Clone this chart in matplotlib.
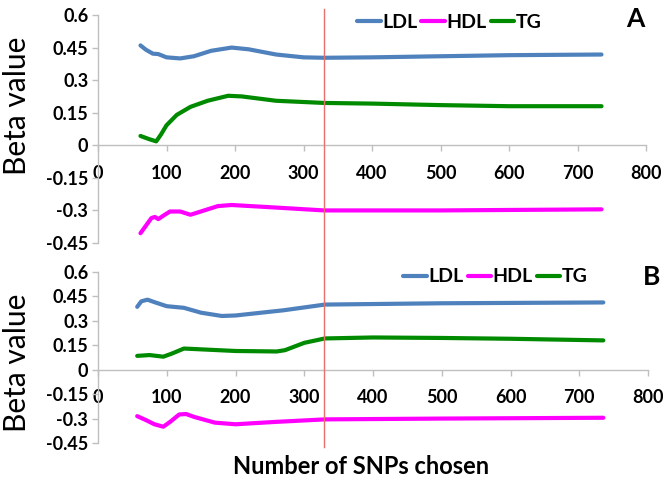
'''
 Beta value versus number of SNPs chosen, two panels (A and B)
'''

import matplotlib
matplotlib.use('Agg')
import matplotlib.pyplot as plt
from matplotlib.lines import Line2D
from matplotlib.transforms import blended_transform_factory

plt.rcParams['font.family'] = ['Lato', 'DejaVu Sans']

# panel A
a_ldl_x = [62, 70, 80, 88, 100, 120, 140, 165, 195, 220, 260, 300, 330, 400, 500, 600, 735]
a_ldl_y = [0.46, 0.44, 0.422, 0.42, 0.405, 0.40, 0.41, 0.435, 0.45, 0.442, 0.418, 0.405, 0.403, 0.405, 0.41, 0.415, 0.418]
a_hdl_x = [62, 70, 78, 83, 88, 95, 105, 120, 130, 135, 150, 175, 195, 250, 330, 500, 735]
a_hdl_y = [-0.405, -0.37, -0.335, -0.33, -0.34, -0.325, -0.305, -0.305, -0.315, -0.32, -0.305, -0.28, -0.275, -0.285, -0.30, -0.30, -0.295]
a_tg_x = [62, 75, 85, 92, 100, 115, 135, 160, 190, 210, 260, 330, 400, 500, 600, 735]
a_tg_y = [0.043, 0.028, 0.018, 0.05, 0.092, 0.14, 0.177, 0.205, 0.228, 0.225, 0.205, 0.195, 0.192, 0.185, 0.18, 0.18]

# panel B
b_ldl_x = [57, 63, 72, 82, 100, 125, 150, 180, 200, 270, 330, 500, 735]
b_ldl_y = [0.386, 0.42, 0.43, 0.415, 0.39, 0.38, 0.35, 0.33, 0.333, 0.365, 0.40, 0.408, 0.413]
b_hdl_x = [57, 70, 82, 95, 105, 118, 128, 140, 170, 200, 260, 330, 500, 735]
b_hdl_y = [-0.285, -0.31, -0.335, -0.35, -0.32, -0.275, -0.272, -0.29, -0.325, -0.335, -0.32, -0.305, -0.30, -0.295]
b_tg_x = [57, 75, 95, 108, 125, 150, 200, 260, 272, 300, 330, 400, 500, 600, 735]
b_tg_y = [0.085, 0.09, 0.08, 0.1, 0.13, 0.125, 0.115, 0.112, 0.12, 0.165, 0.192, 0.198, 0.195, 0.19, 0.18]

y_ticks = [-0.45, -0.3, -0.15, 0, 0.15, 0.3, 0.45, 0.6]
y_tick_labels = ['-0.45', '-0.3', '-0.15', '0', '0.15', '0.3', '0.45', '0.6']
x_ticks = [0, 100, 200, 300, 400, 500, 600, 700, 800]
cut_off = 330

LDL_COLOR = '#4f81bd'
HDL_COLOR = '#ff00ff'
TG_COLOR = '#008a00'
AXIS_COLOR = '#bfbfbf'


def style_axes(ax):
    '''
    Excel-like axes: left spine at x=0, x axis crossing at y=0
    '''
    ax.set_xlim(0, 800)
    ax.set_ylim(-0.45, 0.6)
    ax.spines['top'].set_visible(False)
    ax.spines['right'].set_visible(False)
    ax.spines['left'].set_position(('data', 0))
    ax.spines['bottom'].set_position(('data', 0))
    for side in ['left', 'bottom']:
        ax.spines[side].set_color(AXIS_COLOR)
        ax.spines[side].set_linewidth(1)
    ax.set_xticks(x_ticks)
    ax.set_xticklabels([str(x) for x in x_ticks], fontweight='bold', fontsize=13)
    ax.set_yticks(y_ticks)
    ax.set_yticklabels(y_tick_labels, fontweight='bold', fontsize=13)
    ax.tick_params(axis='both', color=AXIS_COLOR, length=4, width=1)
    ax.tick_params(axis='x', pad=10)
    ax.tick_params(axis='y', pad=3)
    ax.patch.set_alpha(0)


fig = plt.figure(figsize=(6.63, 4.78), dpi=100)
ax_a = fig.add_axes([98 / 663, 1 - 243 / 478, 548 / 663, 228 / 478])
ax_b = fig.add_axes([98 / 663, 1 - 443 / 478, 550 / 663, 171 / 478])

panels = [
    (ax_a, a_ldl_x, a_ldl_y, a_hdl_x, a_hdl_y, a_tg_x, a_tg_y),
    (ax_b, b_ldl_x, b_ldl_y, b_hdl_x, b_hdl_y, b_tg_x, b_tg_y),
]

for ax, lx, ly, hx, hy, tx, ty in panels:
    style_axes(ax)
    ax.plot(lx, ly, color=LDL_COLOR, lw=3, label='LDL', solid_capstyle='round')
    ax.plot(hx, hy, color=HDL_COLOR, lw=3, label='HDL', solid_capstyle='round')
    ax.plot(tx, ty, color=TG_COLOR, lw=3, label='TG', solid_capstyle='round')
    ax.set_ylabel('Beta value', fontsize=21.5)

ax_a.yaxis.set_label_coords(-0.122, 0.6)
ax_b.yaxis.set_label_coords(-0.122, 0.47)

legend_style = dict(loc='center left', ncol=3, frameon=False,
                    prop={'weight': 'bold', 'size': 14}, handlelength=1.2,
                    handletextpad=0.1, columnspacing=0.2, borderaxespad=0, borderpad=0)
ax_a.legend(bbox_to_anchor=(0.473, 0.969), **legend_style)
ax_b.legend(bbox_to_anchor=(0.555, 0.971), **legend_style)

fig.text(635 / 663, 1 - 19 / 478, 'A', ha='center', va='center', fontsize=19, fontweight='bold')
fig.text(652 / 663, 1 - 277 / 478, 'B', ha='center', va='center', fontsize=19, fontweight='bold')

fig.text(361 / 663, 1 - 467 / 478, 'Number of SNPs chosen', ha='center', va='center',
         fontsize=17, fontweight='bold')

# cut-off line across both panels
trans = blended_transform_factory(ax_a.transData, fig.transFigure)
fig.add_artist(Line2D([cut_off, cut_off], [1 - 9 / 478, 1 - 447 / 478], transform=trans,
                      color='#e8706c', lw=1))

fig.savefig('out.png', dpi=100)
